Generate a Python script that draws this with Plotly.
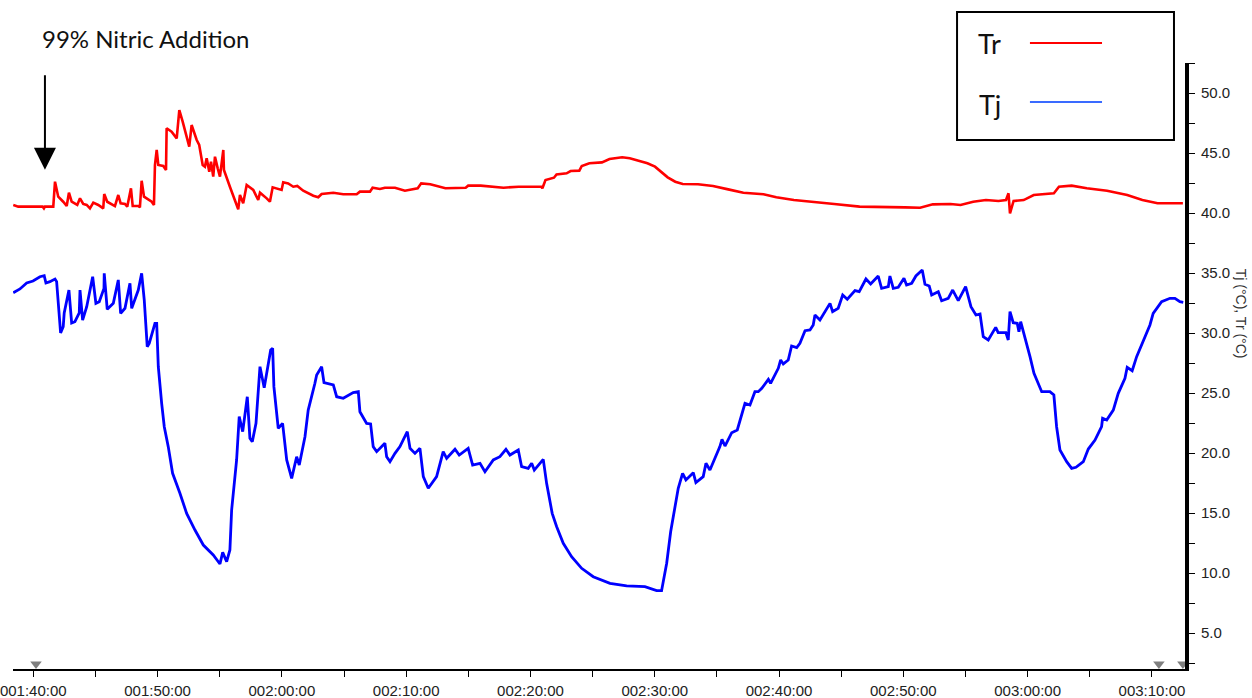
import plotly.graph_objects as go

# time in minutes after 00:00 (100 = 01:40:00)
tr_time = [98.39, 98.79, 100.76, 100.86, 100.94, 101.61, 101.75, 102.01, 102.41, 102.69, 102.87, 103.09,
           103.54, 103.76, 104.02, 104.30, 104.56, 104.83, 105.23, 105.63, 105.71, 105.95, 106.57, 106.84,
           107.03, 107.38, 107.56, 107.86, 108.00, 108.45, 108.58, 108.72, 108.91, 109.53, 109.71, 109.79,
           109.93, 110.06, 110.46, 110.68, 110.73, 111.13, 111.54, 111.75, 112.02, 112.34, 112.55, 112.74,
           113.15, 113.35, 113.63, 113.81, 113.95, 114.16, 114.30, 114.48, 114.62, 114.84, 115.02, 115.29,
           115.34, 115.82, 116.49, 116.63, 116.89, 117.17, 117.70, 118.10, 118.24, 118.78, 119.04, 119.26,
           119.98, 120.11, 120.51, 120.92, 121.24, 121.72, 122.53, 122.93, 123.20, 124.14, 124.94, 126.02,
           126.28, 127.09, 127.30, 127.89, 128.29, 129.10, 129.50, 129.90, 130.93, 131.21, 131.94, 132.75,
           133.16, 134.79, 134.99, 136.00, 136.81, 137.83, 139.05, 140.88, 140.96, 141.21, 141.89, 142.10,
           142.91, 143.23, 143.93, 144.13, 144.74, 145.75, 146.36, 147.38, 147.99, 148.60, 149.41, 150.02,
           150.43, 151.04, 151.65, 152.25, 153.48, 154.69, 155.91, 157.13, 158.75, 159.78, 161.19, 162.82,
           164.44, 166.48, 168.10, 170.14, 171.35, 172.37, 173.79, 174.60, 175.62, 176.64, 177.65, 178.26,
           178.46, 178.58, 178.87, 179.68, 180.49, 181.51, 182.11, 182.52, 183.54, 184.76, 186.39, 188.01,
           189.23, 190.45, 192.49]
tr_values = [40.67, 40.53, 40.53, 40.39, 40.53, 40.53, 42.61, 41.36, 40.94, 40.58, 41.69, 40.94,
             40.67, 41.22, 40.75, 40.67, 40.39, 40.86, 40.67, 40.39, 41.58, 40.94, 40.58, 41.50,
             40.81, 40.75, 40.53, 42.06, 40.58, 40.58, 40.47, 42.69, 41.36, 40.94, 40.67, 44.00,
             45.25, 44.00, 43.92, 43.58, 47.06, 46.78, 46.22, 48.58, 47.61, 46.36, 45.53, 47.33,
             46.08, 45.67, 44.00, 43.86, 44.56, 43.44, 44.28, 43.03, 44.69, 43.72, 43.03, 45.25,
             43.58, 42.19, 40.31, 41.50, 40.81, 42.33, 41.92, 41.08, 41.69, 41.22, 40.94, 42.14,
             41.92, 42.56, 42.47, 42.19, 42.25, 41.86, 41.44, 41.31, 41.58, 41.69, 41.56, 41.56,
             41.78, 41.78, 42.11, 42.00, 42.11, 42.11, 41.97, 41.86, 42.06, 42.47, 42.39, 42.19,
             42.06, 42.11, 42.28, 42.28, 42.19, 42.11, 42.19, 42.19, 42.06, 42.75, 42.94, 43.22,
             43.31, 43.50, 43.53, 43.92, 44.14, 44.22, 44.50, 44.64, 44.56, 44.36, 44.14, 43.86,
             43.53, 42.97, 42.61, 42.42, 42.39, 42.25, 41.97, 41.69, 41.56, 41.31, 41.08, 40.89,
             40.75, 40.53, 40.53, 40.47, 40.44, 40.72, 40.75, 40.67, 40.94, 41.08, 41.00, 41.08,
             41.64, 39.97, 41.00, 41.08, 41.50, 41.58, 41.64, 42.19, 42.28, 42.06, 41.86, 41.50,
             41.08, 40.81, 40.81]

tj_time = [98.39, 98.93, 99.47, 99.98, 100.54, 100.88, 101.02, 101.34, 101.75, 101.88, 102.20, 102.41,
           102.49, 102.87, 103.09, 103.35, 103.70, 103.76, 103.97, 104.30, 104.78, 105.04, 105.31, 105.69,
           105.71, 105.95, 106.44, 106.57, 106.84, 107.03, 107.38, 107.78, 107.92, 108.45, 108.72, 108.93,
           109.07, 109.17, 109.33, 109.79, 109.93, 110.06, 110.33, 110.54, 110.86, 111.21, 111.80, 112.34,
           113.01, 113.68, 114.48, 115.02, 115.24, 115.56, 115.82, 115.96, 116.36, 116.57, 116.85, 117.22,
           117.43, 117.62, 117.92, 118.24, 118.58, 119.10, 119.26, 119.36, 119.71, 120.06, 120.39, 120.79,
           121.19, 121.40, 121.86, 122.12, 122.66, 122.80, 123.20, 123.39, 124.14, 124.41, 124.94, 125.74,
           126.15, 126.28, 126.82, 127.14, 127.35, 127.63, 128.29, 128.43, 128.70, 129.10, 129.50, 130.09,
           130.31, 130.71, 131.11, 131.38, 131.78, 132.45, 132.98, 133.26, 133.93, 134.27, 134.99, 135.35,
           135.94, 136.34, 137.01, 137.54, 138.03, 138.35, 139.02, 139.29, 139.82, 140.10, 140.31, 141.03,
           141.30, 141.75, 142.11, 142.64, 143.31, 144.12, 145.05, 146.40, 147.74, 149.21, 150.15, 150.55,
           150.96, 151.28, 151.89, 152.24, 152.51, 153.10, 153.31, 153.90, 154.12, 154.44, 155.24, 155.41,
           155.65, 156.19, 156.64, 157.26, 157.66, 158.06, 158.33, 158.61, 159.14, 159.32, 159.94, 160.13,
           160.34, 160.74, 161.01, 161.42, 161.68, 162.09, 162.49, 162.75, 162.89, 163.29, 164.10, 164.31,
           164.76, 165.12, 165.49, 166.11, 166.45, 166.99, 167.37, 167.98, 168.25, 168.79, 168.92, 169.19,
           169.59, 170.05, 170.26, 170.67, 171.01, 171.52, 171.74, 172.08, 172.28, 172.81, 173.08, 173.61,
           173.97, 174.42, 175.01, 175.44, 175.84, 176.17, 176.43, 176.83, 177.43, 177.63, 178.25, 178.44,
           178.58, 178.84, 179.16, 179.30, 179.44, 179.78, 180.19, 180.51, 180.85, 181.13, 181.79, 182.11,
           182.33, 182.60, 183.14, 183.54, 183.89, 184.48, 184.88, 185.42, 185.95, 186.03, 186.36, 186.89,
           187.29, 187.83, 188.01, 188.41, 188.77, 189.30, 189.84, 190.10, 190.78, 191.45, 191.85, 192.25,
           192.52]
tj_values = [33.36, 33.67, 34.17, 34.33, 34.69, 34.78, 34.17, 34.28, 34.50, 34.28, 30.00, 30.53,
             31.67, 33.58, 30.83, 30.94, 31.67, 33.58, 31.08, 32.19, 34.69, 32.47, 32.61, 33.72,
             34.97, 31.97, 32.47, 33.17, 34.42, 31.64, 32.06, 34.14, 32.06, 33.58, 34.97, 32.75,
             30.11, 28.86, 29.14, 30.81, 30.81, 27.19, 24.14, 22.19, 20.53, 18.31, 16.64, 14.97,
             13.58, 12.33, 11.50, 10.75, 11.72, 10.94, 11.92, 15.25, 19.42, 23.03, 21.78, 24.69,
             21.22, 20.94, 22.47, 27.19, 25.44, 28.58, 28.72, 25.53, 22.06, 22.47, 19.42, 17.89,
             19.69, 19.00, 21.36, 23.58, 25.81, 26.50, 27.19, 25.86, 25.67, 24.69, 24.56, 25.03,
             25.11, 23.44, 22.47, 22.42, 20.53, 20.11, 20.81, 19.69, 19.28, 19.97, 20.53, 21.78,
             20.39, 19.97, 20.39, 18.03, 17.06, 18.03, 20.11, 19.56, 20.31, 19.83, 20.39, 19.00,
             19.14, 18.44, 19.42, 19.69, 20.31, 19.83, 20.25, 18.86, 18.72, 19.14, 18.58, 19.47,
             17.47, 14.97, 13.86, 12.47, 11.36, 10.39, 9.69, 9.14, 8.92, 8.86, 8.53, 8.53,
             10.81, 13.44, 17.06, 18.31, 17.75, 18.36, 17.53, 18.03, 19.14, 18.58, 20.53, 21.14,
             20.58, 21.69, 21.92, 24.14, 24.00, 25.11, 25.11, 25.39, 26.14, 25.81, 27.06, 27.75,
             27.42, 27.75, 28.92, 28.78, 29.14, 30.19, 30.25, 30.67, 31.50, 31.08, 32.47, 31.78,
             32.06, 33.17, 32.81, 33.53, 33.44, 34.50, 34.08, 34.75, 33.72, 33.86, 34.75, 33.72,
             33.81, 34.56, 34.00, 34.14, 34.75, 35.25, 34.06, 33.92, 33.17, 33.44, 32.69, 32.89,
             33.58, 32.69, 33.86, 32.19, 31.50, 31.58, 29.69, 29.42, 30.47, 30.03, 30.03, 29.42,
             31.78, 30.86, 30.81, 30.11, 30.94, 29.69, 28.03, 26.64, 25.81, 25.11, 25.11, 24.83,
             22.19, 20.25, 19.28, 18.72, 18.81, 19.28, 20.33, 21.08, 22.19, 22.89, 22.75, 23.58,
             24.97, 26.22, 27.14, 26.86, 28.03, 29.42, 30.67, 31.64, 32.61, 32.89, 32.89, 32.61,
             32.56]

x_tickvals = [100, 110, 120, 130, 140, 150, 160, 170, 180, 190]
x_ticktext = ["001:40:00", "001:50:00", "002:00:00", "002:10:00", "002:20:00",
              "002:30:00", "002:40:00", "002:50:00", "003:00:00", "003:10:00"]
x_minor = [105, 115, 125, 135, 145, 155, 165, 175, 185]
y_tickvals = [5, 10, 15, 20, 25, 30, 35, 40, 45, 50]
y_minor = [2.5, 7.5, 12.5, 17.5, 22.5, 27.5, 32.5, 37.5, 42.5, 47.5, 52.5]

marker_times = [100.22, 190.56, 192.49]
marker_level = [2.42, 2.42, 2.42]

addition_time = 100.94
addition_level = 43.6

fig = go.Figure()
fig.add_trace(go.Scatter(x=tr_time, y=tr_values, mode="lines", name="Tr",
                         line=dict(color="#ff0000", width=2.6), showlegend=False))
fig.add_trace(go.Scatter(x=tj_time, y=tj_values, mode="lines", name="Tj",
                         line=dict(color="#0000ff", width=2.8), showlegend=False))
fig.add_trace(go.Scatter(x=marker_times, y=marker_level, mode="markers", cliponaxis=False,
                         marker=dict(symbol="triangle-down", size=10, color="#7f7f7f"),
                         showlegend=False, hoverinfo="skip"))

fig.update_layout(
    width=1252, height=698,
    margin=dict(l=13, r=67, t=63, b=29),
    paper_bgcolor="white", plot_bgcolor="white",
    font=dict(family="Liberation Sans, Arial, sans-serif", color="#333333", size=13),
    xaxis=dict(range=[98.37, 192.66], showgrid=False, zeroline=False, automargin=False,
               showline=True, linecolor="black", linewidth=1.5,
               ticks="outside", ticklen=6, tickwidth=1.3, tickcolor="black",
               tickmode="array", tickvals=x_tickvals, ticktext=x_ticktext,
               tickfont=dict(size=15, color="#222222"), ticklabelstandoff=1,
               ticklabeloverflow="allow",
               minor=dict(tickmode="array", tickvals=x_minor, ticks="outside",
                          ticklen=6, tickwidth=1.3, tickcolor="black")),
    yaxis=dict(range=[2.0, 52.5], side="right", showgrid=False, zeroline=False, automargin=False,
               showline=True, linecolor="black", linewidth=4,
               ticks="outside", ticklen=6, tickwidth=1.3, tickcolor="black",
               tickmode="array", tickvals=y_tickvals, tickformat=".1f",
               tickfont=dict(size=15, color="#222222"), ticklabelstandoff=3,
               ticklabeloverflow="allow",
               minor=dict(tickmode="array", tickvals=y_minor, ticks="outside",
                          ticklen=6, tickwidth=1.3, tickcolor="black")),
)

# annotation text and arrow
fig.add_annotation(x=0.0233, y=1.04, xref="paper", yref="paper", xanchor="left", yanchor="middle",
                   text="99% Nitric Addition", showarrow=False,
                   font=dict(family="Lato, Open Sans, sans-serif", size=24, color="#111111"))
fig.add_annotation(x=addition_time, y=addition_level, xref="x", yref="y", text="",
                   showarrow=True, ax=0, ay=-96, arrowhead=2, arrowsize=2.2,
                   arrowwidth=2, arrowcolor="black")

# y axis title
fig.add_annotation(x=1.048, y=0.5858, xref="paper", yref="paper", text="Tj (°C), Tr (°C)",
                   xanchor="center", yanchor="middle",
                   textangle=90, showarrow=False,
                   font=dict(size=14, color="#333333"))

# custom legend
fig.add_shape(type="rect", xref="paper", yref="paper", x0=0.8055, x1=0.9906, y0=0.8729, y1=1.0842,
              line=dict(color="black", width=2), fillcolor="rgba(0,0,0,0)")
fig.add_shape(type="line", xref="paper", yref="paper", x0=0.8677, x1=0.9292, y0=1.033, y1=1.033,
              line=dict(color="#ff0000", width=2))
fig.add_shape(type="line", xref="paper", yref="paper", x0=0.8677, x1=0.9292, y0=0.9356, y1=0.9356,
              line=dict(color="#3a6bff", width=2))
fig.add_annotation(x=0.8336, y=1.033, xref="paper", yref="paper", text="Tr", showarrow=False,
                   xanchor="center", yanchor="middle",
                   font=dict(family="Lato, Open Sans, sans-serif", size=27, color="#111111"))
fig.add_annotation(x=0.8336, y=0.9307, xref="paper", yref="paper", text="Tj", showarrow=False,
                   xanchor="center", yanchor="middle",
                   font=dict(family="Lato, Open Sans, sans-serif", size=27, color="#111111"))

fig.write_html("out.html", config={"displayModeBar": False},
               post_script="document.body.style.margin='0';document.body.style.overflow='hidden';")
